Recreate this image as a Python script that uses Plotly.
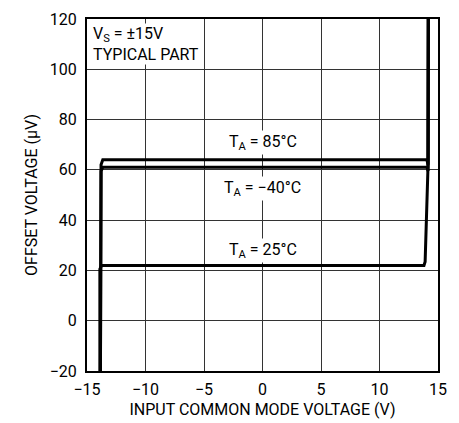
import plotly.graph_objects as go

# Data
x_85 = [-13.85, -13.8, -13.65, 14.05, 14.15, 14.17]
y_85 = [-20, 62, 64, 64, 62, 120]
x_m40 = [-13.85, -13.8, -13.65, 14.05, 14.15, 14.17]
y_m40 = [-20, 59.5, 61, 61, 59.5, 120]
x_25 = [-13.9, -13.9, -13.75, 13.8, 13.9, 14.15, 14.17]
y_25 = [-20, 20.5, 22, 22, 23.5, 62, 120]

x_ticks = [-15, -10, -5, 0, 5, 10, 15]
y_ticks = [-20, 0, 20, 40, 60, 80, 100, 120]

labels = ["T<sub>A</sub> = 85°C", "T<sub>A</sub> = −40°C", "T<sub>A</sub> = 25°C"]
label_y = [71, 52.5, 28]

FONT = "Roboto, Liberation Sans Narrow, Arial Narrow, sans-serif"
FS = 16

fig = go.Figure()
for xs, ys in [(x_85, y_85), (x_m40, y_m40), (x_25, y_25)]:
    fig.add_trace(go.Scatter(x=xs, y=ys, mode="lines",
                             line=dict(color="black", width=3),
                             showlegend=False, hoverinfo="skip"))

for txt, yy in zip(labels, label_y):
    fig.add_annotation(x=0, y=yy, text=txt, showarrow=False,
                       font=dict(family=FONT, size=FS, color="black"),
                       bgcolor="white", borderpad=1)

fig.add_annotation(x=0.015, y=0.99, xref="paper", yref="paper",
                   xanchor="left", yanchor="top", align="left",
                   text="V<sub>S</sub> = ±15V<br>TYPICAL PART", showarrow=False,
                   font=dict(family=FONT, size=FS, color="black"),
                   bgcolor="white", borderpad=0)

axis_common = dict(showgrid=True, gridcolor="#333", gridwidth=1,
                   showline=True, linecolor="black", linewidth=2, mirror=True,
                   zeroline=False, ticks="", automargin=False,
                   tickfont=dict(family=FONT, size=FS, color="black"))

fig.update_xaxes(range=[-15, 15], tickvals=x_ticks, ticklabelstandoff=3, **axis_common,
                 title=dict(text="INPUT COMMON MODE VOLTAGE (V)", standoff=6,
                            font=dict(family=FONT, size=FS, color="black")))
fig.update_yaxes(range=[-20, 120], tickvals=y_ticks, ticklabelstandoff=5, **axis_common,
                 title=dict(text="OFFSET VOLTAGE (μV)", standoff=8,
                            font=dict(family=FONT, size=FS, color="black")))

fig.update_layout(width=459, height=423, plot_bgcolor="white", paper_bgcolor="white",
                  margin=dict(l=87, r=21, t=19, b=52))

fig.write_html("out.html", config={"displayModeBar": False},
               post_script="document.body.style.margin='0';")
